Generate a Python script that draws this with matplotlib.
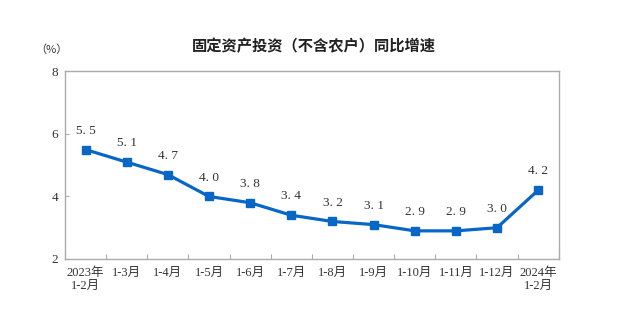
import matplotlib

matplotlib.use("Agg")
import matplotlib.pyplot as plt
import numpy as np

periods = ["2023年\n1-2月", "1-3月", "1-4月", "1-5月", "1-6月", "1-7月",
           "1-8月", "1-9月", "1-10月", "1-11月", "1-12月", "2024年\n1-2月"]
growth = [5.5, 5.1, 4.7, 4.0, 3.8, 3.4, 3.2, 3.1, 2.9, 2.9, 3.0, 4.2]
y_ticks = [2, 4, 6, 8]

SERIF = ["Liberation Serif", "Noto Sans CJK SC", "DejaVu Sans"]
CJK = ["Noto Sans CJK SC", "DejaVu Sans"]
LINE_BLUE = "#0866c6"
AXIS_GRAY = "#ababab"
TEXT = "#333333"

fig = plt.figure(figsize=(6.4, 3.34), dpi=100)
ax = fig.add_axes([0.1016, 0.2246, 0.7714, 0.5614])

x = np.arange(len(growth))
ax.plot(x, growth, color=LINE_BLUE, linewidth=2.3, marker="s",
        markersize=6, markerfacecolor=LINE_BLUE, markeredgecolor=LINE_BLUE,
        zorder=3)

# value labels, with the wide gap after the point used in the bulletin style
for xi, v in zip(x, growth):
    ax.annotate(f"{v:.1f}".replace(".", ". "), (xi, v), xytext=(0, 13.5),
                textcoords="offset points", ha="center", va="center",
                fontsize=9.5, color=TEXT, family=SERIF)

ax.set_xlim(-0.5, len(growth) - 0.5)
ax.set_ylim(2, 8)
ax.set_yticks(y_ticks)
ax.set_yticklabels([str(t) for t in y_ticks], family=SERIF, fontsize=9.5,
                   color=TEXT)

# category labels under points, tick marks between categories
ax.set_xticks(x)
ax.set_xticklabels(periods, family=SERIF, fontsize=9, color=TEXT,
                   linespacing=1.1, va="top")
ax.tick_params(axis="x", which="major", length=0, pad=6)
ax.set_xticks(np.arange(-0.5, len(growth), 1.0), minor=True)
ax.tick_params(axis="x", which="minor", direction="in", length=3.5,
               color=AXIS_GRAY, width=0.8)
ax.tick_params(axis="y", direction="in", length=3, color=AXIS_GRAY,
               width=0.8, pad=5)

for spine in ax.spines.values():
    spine.set_color(AXIS_GRAY)
    spine.set_linewidth(1.0)

fig.text(0.49, 0.862, "固定资产投资（不含农户）同比增速", ha="center",
         va="center", fontsize=11, family=CJK, weight="bold",
         color="#222222")
fig.text(0.081, 0.85, "（%）", ha="center", va="center", fontsize=8,
         family=CJK, color=TEXT)

fig.savefig("out.png", dpi=100)
plt.close(fig)
